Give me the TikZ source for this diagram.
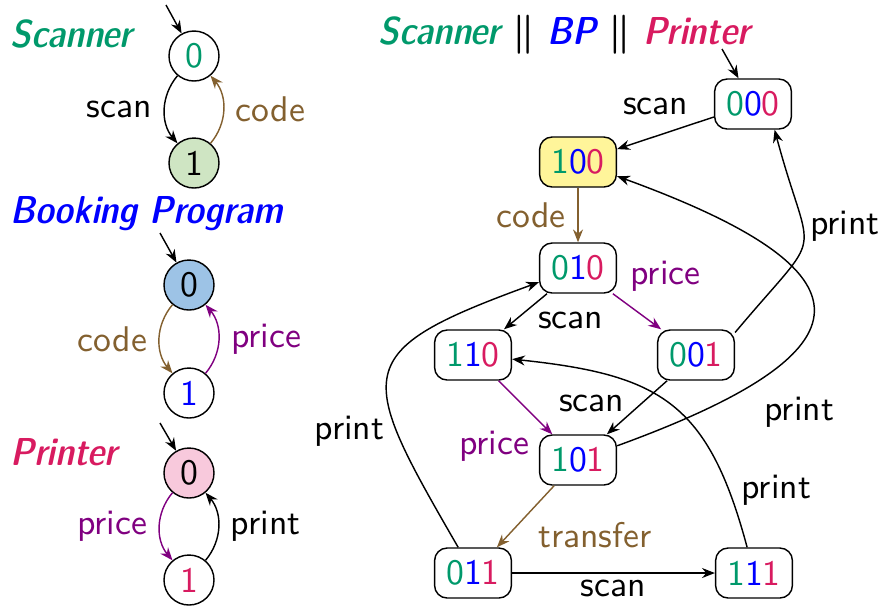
\documentclass[tikz,border=0pt]{standalone}
\usepackage{bm}
\usetikzlibrary{arrows.meta}
\definecolor{scgreen}{HTML}{00996B}
\definecolor{bpblue}{HTML}{0000FF}
\definecolor{prred}{HTML}{D81B60}
\definecolor{codebrown}{HTML}{83602F}
\definecolor{pricepurple}{HTML}{800080}
\definecolor{fillgreen}{HTML}{CFE5C3}
\definecolor{fillblue}{HTML}{9DC3E6}
\definecolor{fillpink}{HTML}{F8C9DC}
\definecolor{fillyellow}{HTML}{FFF59A}
\newcommand{\confvec}[3]{\textcolor{scgreen}{#1}\textcolor{bpblue}{#2}\textcolor{prred}{#3}}
\tikzset{>={Stealth[length=3.6pt,width=2.8pt]},line width=.75pt,
  every node/.style={font=\sffamily},
  title/.style={font=\sffamily\fontsize{10.9}{13}\fontseries{sbc}\fontshape{sl}\selectfont,anchor=base west,inner sep=0pt},
  state/.style={circle,draw,minimum size=14pt,inner sep=0pt},
  config/.style={draw,rounded corners=3.5pt,minimum width=21.5pt,minimum height=14pt,inner sep=1pt},
  codeedge/.style={->,codebrown},
  priceedge/.style={->,pricepurple}}
\begin{document}
\begin{tikzpicture}[x=.28pt,y=.28pt]
\useasboundingbox (0,0) rectangle (886,-605);
% the three components
\node[title,scgreen] (tscan) at (10,-47) {Scanner};
\node[state] (s0) at (194,-56) {\textcolor{scgreen}{0}};
\node[state,fill=fillgreen] (s1) at (194,-163) {1};
\coordinate (s0init) at (166,-5);\draw[->] (s0init)--(s0);
\draw[->] (s0) to[bend right=40] node[left]{scan} (s1);
\draw[codeedge] (s1) to[bend right=40] node[right]{code} (s0);
\node[title,bpblue] (tbp) at (10,-223) {Booking Program};
\node[state,fill=fillblue] (b0) at (189,-285) {0};
\node[state] (b1) at (189,-393) {\textcolor{bpblue}{1}};
\coordinate (b0init) at (160,-233);\draw[->] (b0init)--(b0);
\draw[codeedge] (b0) to[bend right=40] node[left]{code} (b1);
\draw[priceedge] (b1) to[bend right=40] node[right]{price} (b0);
\node[title,prred] (tprint) at (10,-465) {Printer};
\node[state,fill=fillpink] (p0) at (189,-473) {0};
\node[state] (p1) at (189,-580) {\textcolor{prred}{1}};
\coordinate (p0init) at (160,-423);\draw[->] (p0init)--(p0);
\draw[priceedge] (p0) to[bend right=40] node[left]{price} (p1);
\draw[->] (p1) to[bend right=40] node[right]{print} (p0);
% product
\node[title] (tprod) at (378,-44) {\textcolor{scgreen}{Scanner} $\bm{\|}$ \textcolor{bpblue}{BP} $\bm{\|}$ \textcolor{prred}{Printer}};
\node[config] (n000) at (753,-104) {\confvec000};
\node[config,fill=fillyellow] (n100) at (578,-162) {\confvec100};
\node[config] (n010) at (578,-268) {\confvec010};
\node[config] (n110) at (473,-355) {\confvec110};
\node[config] (n001) at (696,-355) {\confvec001};
\node[config] (n101) at (578,-460) {\confvec101};
\node[config] (n011) at (473,-573) {\confvec011};
\node[config] (n111) at (754,-573) {\confvec111};
\coordinate (n000init) at (722,-49);\draw[->] (n000init)--(n000);
\draw[->] (n000)--node[pos=.6,above=2.5pt]{scan}(n100);
\draw[codeedge] (n100)--node[left]{code}(n010);
\draw[->] (n010)--node[right,yshift=-2.5pt]{scan}(n110);
\draw[priceedge] (n010)--node[pos=.1,above right,yshift=-2pt]{price}(n001);
\draw[->] (n001)--node[left,yshift=1pt]{scan}(n101);
\draw[priceedge] (n110)--node[pos=.7,below left,xshift=1.5pt]{price}(n101);
\draw[codeedge] (n101)--node[below right,yshift=2pt]{transfer}(n011);
\draw[->] (n011)--node[below,yshift=1.5pt]{scan}(n111);
\draw[->] (n011) to[out=120,in=200,looseness=1.88] node[pos=.28,left]{print} (n010);
\draw[->] (n111) to[out=105,in=-6,looseness=1.27] node[pos=.15,right]{print} (n110);
\draw[->] (n101) to[out=20,in=-20,looseness=2.65] node[pos=.22,below right]{print} (n100);
\draw[->] (n001.30) to[out=50,in=-75,looseness=1.78] node[pos=.62,right,xshift=-1.5pt]{print} (n000.-50);
\end{tikzpicture}
\end{document}
